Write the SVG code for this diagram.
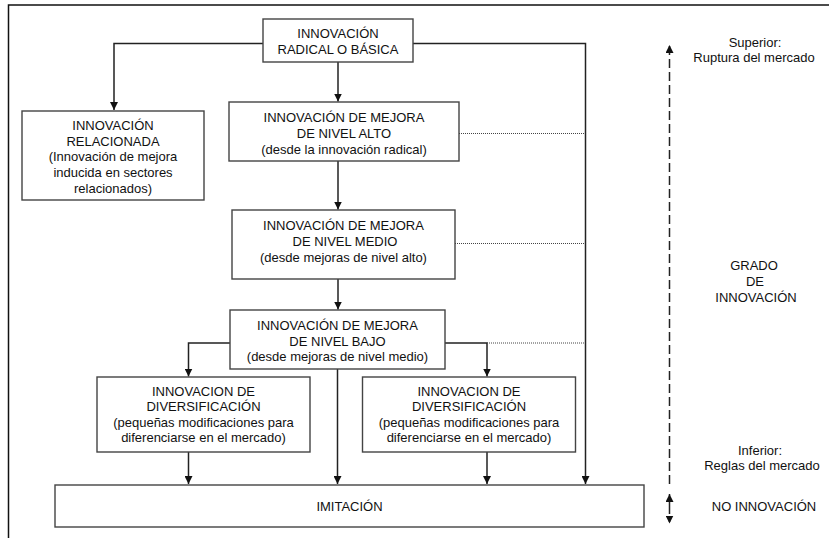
<svg xmlns="http://www.w3.org/2000/svg" width="829" height="538" viewBox="0 0 829 538">
<defs>
<style>
.box{fill:#fff;stroke:#444;stroke-width:1.4}
.t{font-family:"Liberation Sans",Arial,sans-serif;font-size:13px;fill:#111;text-anchor:middle}
.c{fill:none;stroke:#222;stroke-width:1.5}
.d{fill:none;stroke:#444;stroke-width:1;stroke-dasharray:1 1}
.dash{fill:none;stroke:#222;stroke-width:1.5;stroke-dasharray:9 4}
</style>
<marker id="ah" viewBox="0 0 8 8" refX="8" refY="4" markerWidth="8" markerHeight="8" markerUnits="userSpaceOnUse" orient="auto">
<path d="M0,0 L8,4 L0,8 z" fill="#111"/>
</marker>
</defs>
<rect width="829" height="538" fill="#fff"/>
<path d="M8.5,538 V5 H829" fill="none" stroke="#111" stroke-width="1.5"/>

<g id="connectors">
<path class="c" d="M263,43.5 H114 V110" marker-end="url(#ah)"/>
<path class="c" d="M413,43.5 H585.5 V484" marker-end="url(#ah)"/>
<path class="c" d="M338,62 V101.5" marker-end="url(#ah)"/>
<path class="c" d="M338,161 V209.5" marker-end="url(#ah)"/>
<path class="c" d="M338,279 V309.5" marker-end="url(#ah)"/>
<path class="c" d="M230,343 H188.5 V376.5" marker-end="url(#ah)"/>
<path class="c" d="M445,343 H487 V376.5" marker-end="url(#ah)"/>
<path class="c" d="M337.5,369 V484" marker-end="url(#ah)"/>
<path class="c" d="M188.5,452 V484" marker-end="url(#ah)"/>
<path class="c" d="M487,452 V484" marker-end="url(#ah)"/>
<path class="d" d="M459,133.5 H585"/>
<path class="d" d="M455,243.5 H585"/>
<path class="d" d="M487,343 H585"/>
<path class="dash" d="M669.5,484 V45" marker-end="url(#ah)"/>
<path class="dash" d="M669.5,509 V494" marker-end="url(#ah)"/>
<path class="dash" d="M669.5,509 V523.5" marker-end="url(#ah)" style="stroke-dasharray:5 3"/>
</g>

<g id="radical">
<rect class="box" x="263" y="19" width="150" height="43"/>
<text class="t" x="338" y="37.5">INNOVACIÓN</text>
<text class="t" x="338" y="53.5">RADICAL O BÁSICA</text>
</g>

<g id="relacionada">
<rect class="box" x="22" y="111" width="182" height="89"/>
<text class="t" x="113" y="130">INNOVACIÓN</text>
<text class="t" x="113" y="145.7">RELACIONADA</text>
<text class="t" x="113" y="161.4">(Innovación de mejora</text>
<text class="t" x="113" y="177.1">inducida en sectores</text>
<text class="t" x="113" y="192.8">relacionados)</text>
</g>

<g id="alto">
<rect class="box" x="229" y="102" width="230" height="59"/>
<text class="t" x="344" y="121.5">INNOVACIÓN DE MEJORA</text>
<text class="t" x="344" y="137.5">DE NIVEL ALTO</text>
<text class="t" x="344" y="153.5">(desde la innovación radical)</text>
</g>

<g id="medio">
<rect class="box" x="232" y="210" width="223" height="69"/>
<text class="t" x="343.5" y="230">INNOVACIÓN DE MEJORA</text>
<text class="t" x="345" y="246">DE NIVEL MEDIO</text>
<text class="t" x="343.5" y="262">(desde mejoras de nivel alto)</text>
</g>

<g id="bajo">
<rect class="box" x="230" y="310" width="215" height="59"/>
<text class="t" x="337.5" y="329.5">INNOVACIÓN DE MEJORA</text>
<text class="t" x="337.5" y="345.5">DE NIVEL BAJO</text>
<text class="t" x="337.5" y="361">(desde mejoras de nivel medio)</text>
</g>

<g id="diversificacion-1">
<rect class="box" x="97" y="377" width="213" height="75"/>
<text class="t" x="203.5" y="395.5">INNOVACION DE</text>
<text class="t" x="203.5" y="411">DIVERSIFICACIÓN</text>
<text class="t" x="203.5" y="426.7">(pequeñas modificaciones para</text>
<text class="t" x="203.5" y="442.2">diferenciarse en el mercado)</text>
</g>

<g id="diversificacion-2">
<rect class="box" x="362.5" y="377" width="213" height="75"/>
<text class="t" x="469" y="395.5">INNOVACION DE</text>
<text class="t" x="469" y="411">DIVERSIFICACIÓN</text>
<text class="t" x="469" y="426.7">(pequeñas modificaciones para</text>
<text class="t" x="469" y="442.2">diferenciarse en el mercado)</text>
</g>

<g id="imitacion">
<rect class="box" x="55" y="485" width="589" height="42"/>
<text class="t" x="349.5" y="511">IMITACIÓN</text>
</g>

<g id="labels">
<text class="t" x="755" y="46.5">Superior:</text>
<text class="t" x="754" y="61.5">Ruptura del mercado</text>
<text class="t" x="754" y="269.5">GRADO</text>
<text class="t" x="755" y="285.5">DE</text>
<text class="t" x="756" y="301.5">INNOVACIÓN</text>
<text class="t" x="760" y="455">Inferior:</text>
<text class="t" x="762" y="470">Reglas del mercado</text>
<text class="t" x="764" y="511">NO INNOVACIÓN</text>
</g>
</svg>
